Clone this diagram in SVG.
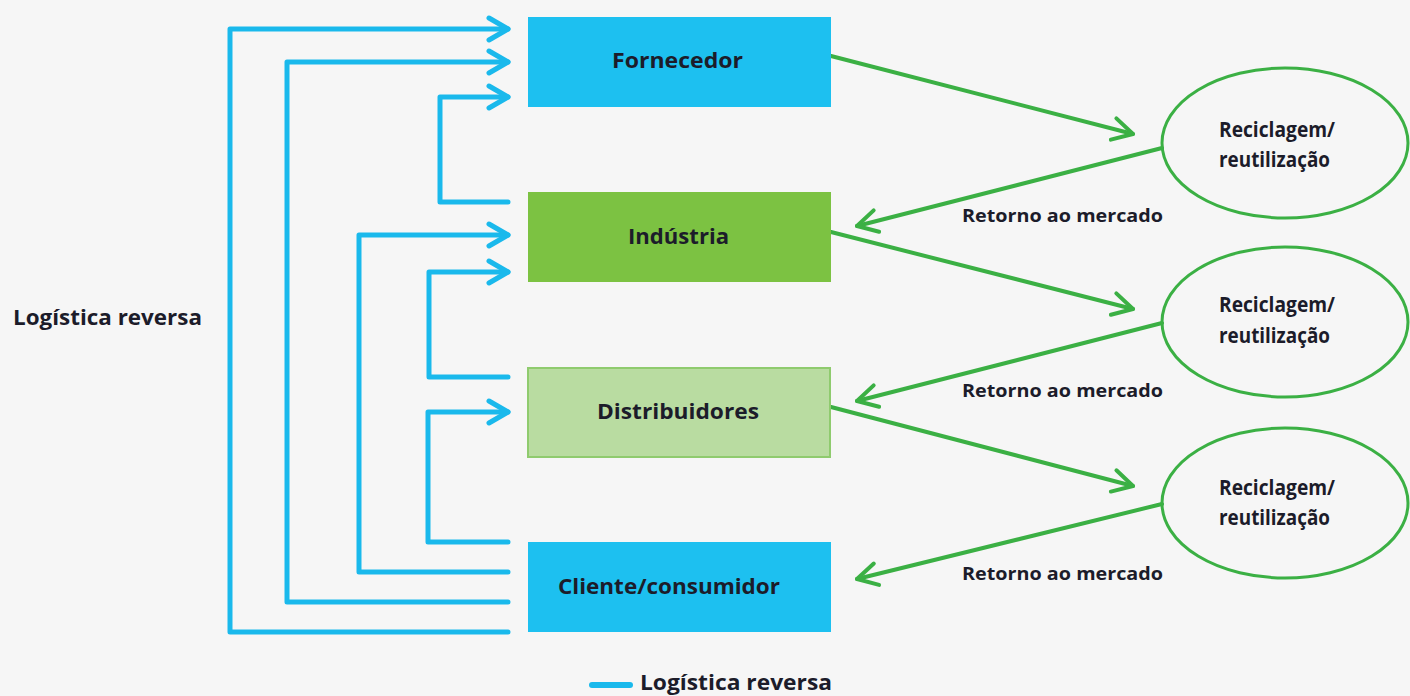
<svg xmlns="http://www.w3.org/2000/svg" width="1410" height="696" viewBox="0 0 1410 696">
<defs>
<style>
.t{font-family:"Open Sans","Liberation Sans",sans-serif;font-weight:700;fill:#1c1c2a;}
.box{font-size:21px;}
.ret{font-size:17px;}
.blue{fill:none;stroke:#1ab9ec;stroke-width:5;stroke-linecap:round;stroke-linejoin:round;}
.green{fill:none;stroke:#3bb044;stroke-width:4;stroke-linecap:round;}
.ell{fill:none;stroke:#3bb044;stroke-width:3;}
</style>
<marker id="ab" markerUnits="userSpaceOnUse" markerWidth="40" markerHeight="40" viewBox="-30 -20 40 40" refX="0" refY="0" orient="auto">
<path d="M-19,-11 L0,0 L-19,11" fill="none" stroke="#1ab9ec" stroke-width="5" stroke-linecap="round" stroke-linejoin="round"/>
</marker>
<marker id="ag" markerUnits="userSpaceOnUse" markerWidth="40" markerHeight="40" viewBox="-30 -20 40 40" refX="0" refY="0" orient="auto">
<path d="M-20,-11 L0,0 L-20,11" fill="none" stroke="#3bb044" stroke-width="4" stroke-linecap="round" stroke-linejoin="round"/>
</marker>
</defs>
<rect width="1410" height="696" fill="#f6f6f6"/>
<g id="connectors">
<path class="blue" d="M508,632 H230 V29 H508" marker-end="url(#ab)"/>
<path class="blue" d="M508,602 H287 V62 H508" marker-end="url(#ab)"/>
<path class="blue" d="M508,202 H440 V97 H508" marker-end="url(#ab)"/>
<path class="blue" d="M508,572 H359 V235 H508" marker-end="url(#ab)"/>
<path class="blue" d="M508,377 H429 V272 H508" marker-end="url(#ab)"/>
<path class="blue" d="M508,542 H428 V412 H508" marker-end="url(#ab)"/>
<path class="green" d="M831,56 L1133,134" marker-end="url(#ag)"/>
<path class="green" d="M1162,148 L857,226" marker-end="url(#ag)"/>
<path class="green" d="M831,232 L1133,309" marker-end="url(#ag)"/>
<path class="green" d="M1162,323 L857,401" marker-end="url(#ag)"/>
<path class="green" d="M831,407 L1133,486" marker-end="url(#ag)"/>
<path class="green" d="M1162,504 L857,579" marker-end="url(#ag)"/>
<text class="t ret" x="962" y="222" textLength="201" lengthAdjust="spacingAndGlyphs">Retorno ao mercado</text>
<text class="t ret" x="962" y="397" textLength="201" lengthAdjust="spacingAndGlyphs">Retorno ao mercado</text>
<text class="t ret" x="962" y="580" textLength="201" lengthAdjust="spacingAndGlyphs">Retorno ao mercado</text>
</g>
<g id="fornecedor">
<rect x="528" y="17" width="303" height="90" fill="#1dc0f0"/>
<text class="t box" x="612" y="68" textLength="131" lengthAdjust="spacingAndGlyphs">Fornecedor</text>
</g>
<g id="industria">
<rect x="528" y="192" width="303" height="90" fill="#7cc242"/>
<text class="t box" x="628" y="244" textLength="101" lengthAdjust="spacingAndGlyphs">Indústria</text>
</g>
<g id="distribuidores">
<rect x="528" y="368" width="302" height="89" fill="#b9dca1" stroke="#8fcb6e" stroke-width="2"/>
<text class="t box" x="597" y="419" textLength="162" lengthAdjust="spacingAndGlyphs">Distribuidores</text>
</g>
<g id="cliente">
<rect x="528" y="542" width="303" height="90" fill="#1dc0f0"/>
<text class="t box" x="558" y="594" textLength="222" lengthAdjust="spacingAndGlyphs">Cliente/consumidor</text>
</g>
<g id="reciclagem1">
<ellipse class="ell" cx="1285" cy="143" rx="123" ry="75"/>
<text class="t box" x="1219" y="137" textLength="116" lengthAdjust="spacingAndGlyphs">Reciclagem/</text>
<text class="t box" x="1219" y="167" textLength="111" lengthAdjust="spacingAndGlyphs">reutilização</text>
</g>
<g id="reciclagem2">
<ellipse class="ell" cx="1285" cy="322" rx="123" ry="75"/>
<text class="t box" x="1219" y="312" textLength="116" lengthAdjust="spacingAndGlyphs">Reciclagem/</text>
<text class="t box" x="1219" y="343" textLength="111" lengthAdjust="spacingAndGlyphs">reutilização</text>
</g>
<g id="reciclagem3">
<ellipse class="ell" cx="1285" cy="503" rx="123" ry="75"/>
<text class="t box" x="1219" y="495" textLength="116" lengthAdjust="spacingAndGlyphs">Reciclagem/</text>
<text class="t box" x="1219" y="525" textLength="111" lengthAdjust="spacingAndGlyphs">reutilização</text>
</g>
<g id="label-left">
<text class="t box" x="13" y="325" textLength="189" lengthAdjust="spacingAndGlyphs">Logística reversa</text>
</g>
<g id="legend">
<line x1="592" y1="685" x2="630" y2="685" stroke="#1ab9ec" stroke-width="6" stroke-linecap="round"/>
<text class="t box" x="640" y="690" textLength="192" lengthAdjust="spacingAndGlyphs">Logística reversa</text>
</g>
</svg>
